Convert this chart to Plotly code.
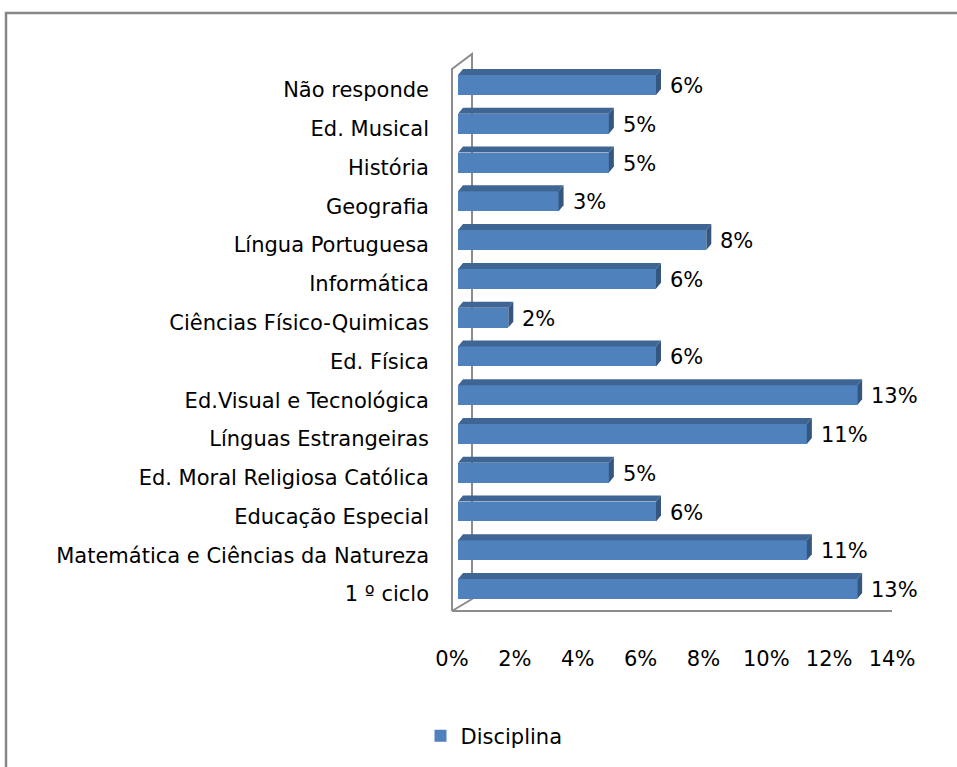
import plotly.graph_objects as go

# disciplinas, de cima para baixo
disciplinas = ['Não responde', 'Ed. Musical', 'História', 'Geografia', 'Língua Portuguesa',
               'Informática', 'Ciências Físico-Quimicas', 'Ed. Física', 'Ed.Visual e Tecnológica',
               'Línguas Estrangeiras', 'Ed. Moral Religiosa Católica', 'Educação Especial',
               'Matemática e Ciências da Natureza', '1 º ciclo']
percentagens = [6.3, 4.8, 4.8, 3.2, 7.9, 6.3, 1.6, 6.3, 12.7, 11.1, 4.8, 6.3, 11.1, 12.7]
rotulos = ['6%', '5%', '5%', '3%', '8%', '6%', '2%', '6%', '13%', '11%', '5%', '6%', '11%', '13%']
ticks_x = [0, 2, 4, 6, 8, 10, 12, 14]

# geometria (pixeis)
L, R, T, B = 458, 898, 66, 612
W, H = 957, 767
posicoes = list(range(len(disciplinas)))
largura = 0.515
dx = 5 / ((R - L) / 14)
dy = 6 / ((B - T) / 14.056)
fonte = 'DejaVu Sans'
tam = 21

fig = go.Figure()
fig.add_trace(go.Bar(y=posicoes, x=percentagens, orientation='h', width=largura,
                     marker=dict(color='#4F81BD', line=dict(width=0)),
                     name='Disciplina', showlegend=True))

def px(x):
    return (x - L) / (R - L)

def py(y):
    return (B - y) / (B - T)

shapes = []
# moldura do gráfico
shapes.append(dict(type='rect', xref='paper', yref='paper', x0=px(6), x1=px(1000), y0=py(800), y1=py(13),
                   line=dict(color='#878787', width=2.5), layer='below'))
# paredes 3D
parede = [(452, 612), (452, 69), (472, 54), (472, 600), (452, 612)]
caminho = 'M ' + ' L '.join(f'{px(a):.4f},{py(b):.4f}' for a, b in parede)
shapes.append(dict(type='path', xref='paper', yref='paper', path=caminho,
                   line=dict(color='#8C8C8C', width=2), layer='below'))
shapes.append(dict(type='line', xref='paper', yref='paper', x0=px(452), x1=px(892), y0=py(612), y1=py(612),
                   line=dict(color='#8C8C8C', width=2), layer='below'))

anotacoes = []
for i, v in zip(posicoes, percentagens):
    topo = i - largura / 2
    base = i + largura / 2
    shapes.append(dict(type='path', xref='x', yref='y', layer='above',
                       path=f'M 0,{topo} L {v},{topo} L {v + dx},{topo - dy} L {dx},{topo - dy} Z',
                       fillcolor='#3F6595', line=dict(width=0)))
    shapes.append(dict(type='path', xref='x', yref='y', layer='above',
                       path=f'M {v},{topo} L {v + dx},{topo - dy} L {v + dx},{base - dy} L {v},{base} Z',
                       fillcolor='#34567F', line=dict(width=0)))
    anotacoes.append(dict(x=v, y=i, xref='x', yref='y', text=rotulos[i], showarrow=False,
                          xanchor='left', xshift=12, yshift=-1,
                          font=dict(size=tam, color='#000000')))

fig.update_layout(
    width=W, height=H,
    margin=dict(l=L, r=W - R, t=T, b=H - B),
    paper_bgcolor='white', plot_bgcolor='white',
    font=dict(family=fonte, size=tam, color='#000000'),
    shapes=shapes, annotations=anotacoes,
    bargap=0,
    legend=dict(orientation='h', x=px(494), y=py(736), xanchor='center', yanchor='middle',
                font=dict(size=tam)),
)
fig.update_xaxes(range=[0, 14], tickvals=ticks_x, ticktext=[f'{t}%' for t in ticks_x],
                 showgrid=False, zeroline=False, showline=False, ticks='',
                 ticklabelstandoff=33, ticklabelshift=-6)
fig.update_yaxes(range=[13.566, -0.49], tickvals=posicoes, ticktext=disciplinas,
                 showgrid=False, zeroline=False, showline=False, ticks='',
                 ticklabelstandoff=28, ticklabelshift=-5)

fig.write_html('out.html', config={'displayModeBar': False},
               post_script="document.body.style.margin='0';")
